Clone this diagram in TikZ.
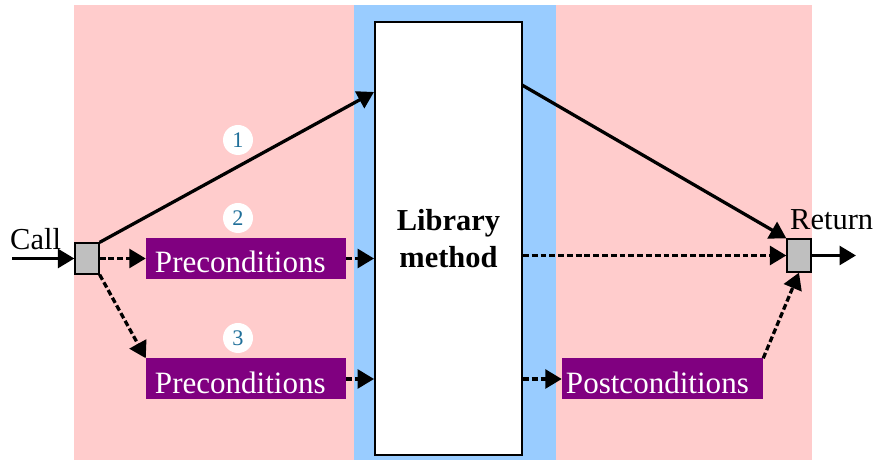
\documentclass[tikz,border=0pt]{standalone}
\usepackage{fontspec}
\setmainfont{Liberation Serif}
\usepackage{tikz}
\usetikzlibrary{arrows.meta}
\usepackage{xcolor}

\definecolor{bgpink}{HTML}{FFCCCC}
\definecolor{bgblue}{HTML}{99CCFF}
\definecolor{condpurple}{HTML}{800080}
\definecolor{numblue}{HTML}{1F6F99}

\begin{document}
\begin{tikzpicture}[x=0.03cm, y=-0.03cm,
    >={Triangle[length=14pt,width=16pt]},
    flow/.style={line width=2.8pt, ->},
    dflow/.style={line width=2.8pt, ->, dash pattern=on 5pt off 2.5pt},
    condbox/.style={fill=condpurple, text=white, inner ysep=0pt, align=left,
        text height=1.05cm, text depth=0.18cm, font=\fontsize{26.5}{30}\selectfont},
    port/.style={draw, fill=black!25, line width=1.1pt, inner sep=0pt, minimum width=0.72cm},
    numlbl/.style={circle, fill=white, inner sep=0pt, minimum size=0.9cm, text=numblue,
        font=\fontsize{19}{21}\selectfont}]
    \useasboundingbox (0,0) rectangle (883,460);

    % Background bands
    \fill[bgpink] (74,5) rectangle (812,460);
    \fill[bgblue] (354,5) rectangle (556,460);

    % Library method
    \node[draw, fill=white, line width=1.6pt, minimum width=4.41cm, minimum height=12.99cm,
        align=center, font=\bfseries\fontsize{26}{32}\selectfont] (lib) at (448.5,238.5)
        {Library\\method};

    % Call and return
    \node[port, minimum height=0.93cm] (call) at (87,258.5) {};
    \node[port, minimum height=0.99cm] (ret) at (799,255.5) {};
    \node[anchor=base west, inner sep=0pt, font=\fontsize{26}{30}\selectfont] (calltxt) at (10,250) {Call};
    \node[anchor=base west, inner sep=0pt, font=\fontsize{26}{30}\selectfont] (rettxt) at (790,230) {Return};
    \coordinate (callin) at (12,258.5);
    \coordinate (retout) at (856,255.5);

    % Conditions
    \node[condbox, inner xsep=0.27cm, text width=5.46cm] (pre1) at (246,258.5) {Preconditions};
    \node[condbox, inner xsep=0.27cm, text width=5.46cm] (pre2) at (246,379) {Preconditions};
    \node[condbox, inner xsep=0.12cm, text width=5.79cm] (post) at (662.5,379) {Postconditions};

    % Numbers
    \node[numlbl] (n1) at (238,140) {1};
    \node[numlbl] (n2) at (238,218) {2};
    \node[numlbl] (n3) at (238,338) {3};

    % Edges
    \coordinate (libin) at (374,92);
    \coordinate (libout) at (522,85);
    \draw[flow] (callin) -- (call.west);
    \draw[flow] (ret.east) -- (retout);
    \draw[flow] (call.north east) -- (libin);
    \draw[flow] (libout) -- (ret.north west);

    % Dashed paths
    \draw[dflow] (call.east) -- (pre1.west);
    \draw[dflow] (pre1.east) -- (pre1.east -| lib.west);
    \draw[dflow] (ret.west -| lib.east) -- (ret.west);
    \draw[dflow] (call.south east) -- (pre2.north west);
    \draw[dflow] (pre2.east) -- (pre2.east -| lib.west);
    \draw[dflow] (post.west -| lib.east) -- (post.west);
    \draw[dflow] (post.north east) -- (ret.south);
\end{tikzpicture}
\end{document}
